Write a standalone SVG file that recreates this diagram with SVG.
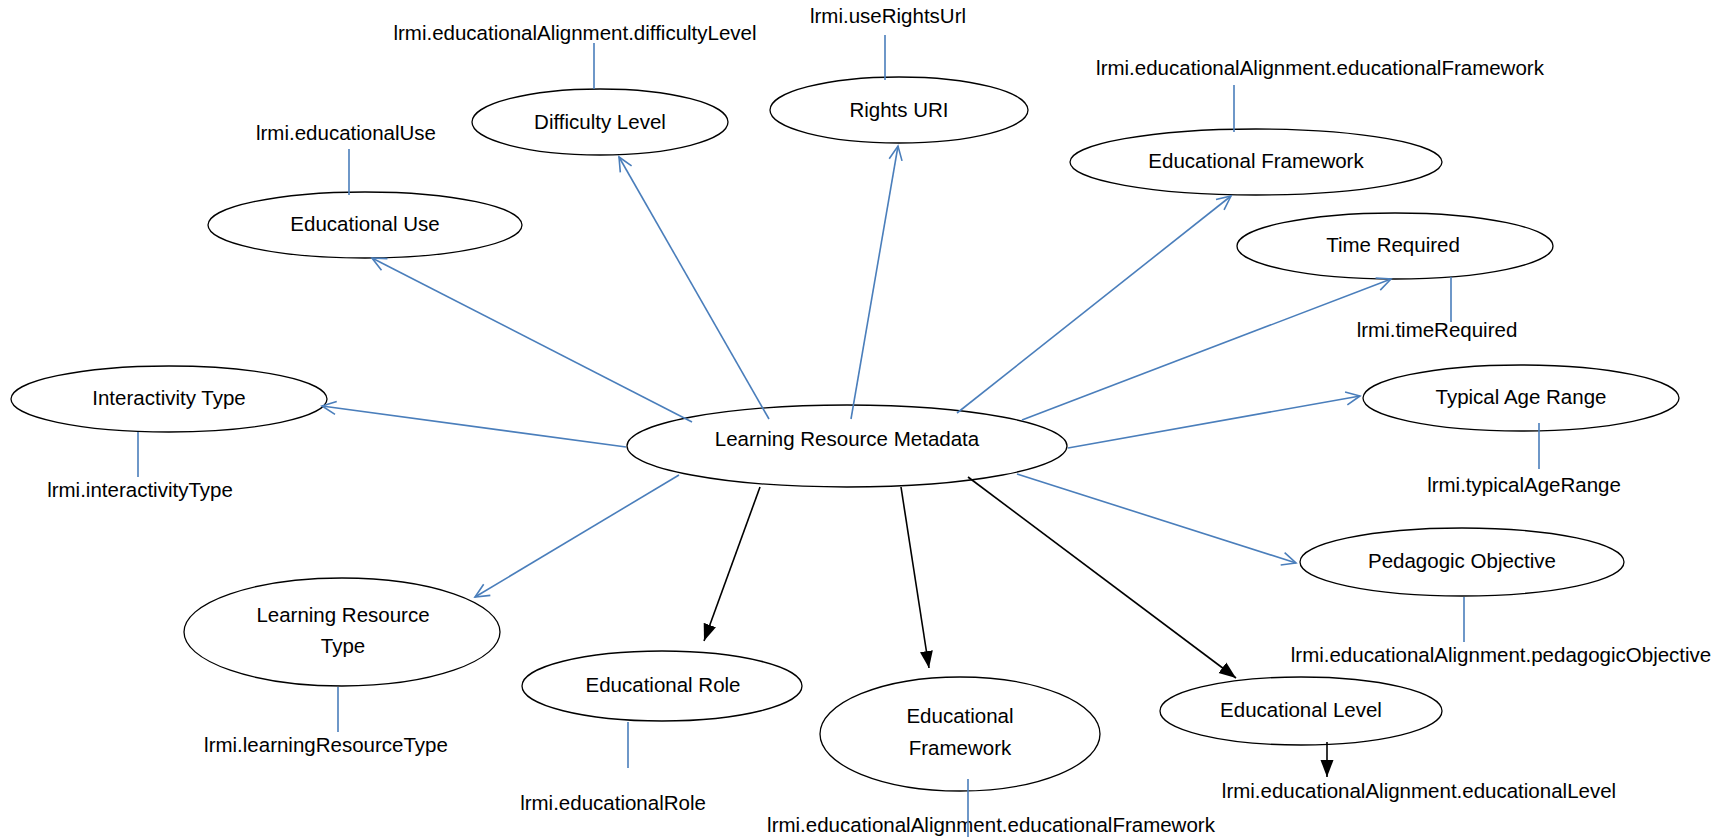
<svg xmlns="http://www.w3.org/2000/svg" width="1729" height="840" viewBox="0 0 1729 840">
<style>
text{font-family:"Liberation Sans",Arial,sans-serif;font-size:20.5px;fill:#000;text-anchor:middle}
ellipse{fill:#fff;stroke:#000;stroke-width:1.3}
.b{stroke:#4A7EBB;stroke-width:1.6;fill:none}
.k{stroke:#000;stroke-width:1.6;fill:none}
.ba{marker-end:url(#open)}
.ka{marker-end:url(#solid)}
</style>
<defs>
<marker id="open" markerUnits="userSpaceOnUse" markerWidth="18" markerHeight="16" viewBox="0 0 18 16" refX="16" refY="8" orient="auto">
<path d="M2,1.5 L16,8 L2,14.5" fill="none" stroke="#4A7EBB" stroke-width="1.6"/>
</marker>
<marker id="solid" markerUnits="userSpaceOnUse" markerWidth="18" markerHeight="14" viewBox="0 0 18 14" refX="17" refY="7" orient="auto">
<path d="M0,0.5 L17,7 L0,13.5 z" fill="#000"/>
</marker>
</defs>
<rect width="1729" height="840" fill="#fff"/>
<g id="central"><ellipse cx="847" cy="446" rx="220" ry="41"/><text x="847" y="446">Learning Resource Metadata</text></g>
<g id="difficulty"><ellipse cx="600" cy="122" rx="128" ry="33"/><text x="600" y="129">Difficulty Level</text><text x="575" y="40">lrmi.educationalAlignment.difficultyLevel</text></g>
<g id="rights"><ellipse cx="899" cy="110" rx="129" ry="33"/><text x="899" y="117">Rights URI</text><text x="888" y="23">lrmi.useRightsUrl</text></g>
<g id="eduse"><ellipse cx="365" cy="225" rx="157" ry="33"/><text x="365" y="231">Educational Use</text><text x="346" y="140">lrmi.educationalUse</text></g>
<g id="edframework-top"><ellipse cx="1256" cy="162" rx="186" ry="33"/><text x="1256" y="168">Educational Framework</text><text x="1320" y="75">lrmi.educationalAlignment.educationalFramework</text></g>
<g id="time"><ellipse cx="1395" cy="246" rx="158" ry="33"/><text x="1393" y="252">Time Required</text><text x="1437" y="337">lrmi.timeRequired</text></g>
<g id="interactivity"><ellipse cx="169" cy="399" rx="158" ry="33"/><text x="169" y="405">Interactivity Type</text><text x="140" y="497">lrmi.interactivityType</text></g>
<g id="agerange"><ellipse cx="1521" cy="398" rx="158" ry="33"/><text x="1521" y="404">Typical Age Range</text><text x="1524" y="492">lrmi.typicalAgeRange</text></g>
<g id="lrt"><ellipse cx="342" cy="632" rx="158" ry="54"/><text x="343" y="622">Learning Resource</text><text x="343" y="653">Type</text><text x="326" y="752">lrmi.learningResourceType</text></g>
<g id="role"><ellipse cx="662" cy="686" rx="140" ry="35"/><text x="663" y="692">Educational Role</text><text x="613" y="810">lrmi.educationalRole</text></g>
<g id="edframework-bottom"><ellipse cx="960" cy="734" rx="140" ry="57"/><text x="960" y="723">Educational</text><text x="960" y="755">Framework</text><text x="991" y="832">lrmi.educationalAlignment.educationalFramework</text></g>
<g id="pedagogic"><ellipse cx="1462" cy="562" rx="162" ry="34"/><text x="1462" y="568">Pedagogic Objective</text><text x="1501" y="662">lrmi.educationalAlignment.pedagogicObjective</text></g>
<g id="edlevel"><ellipse cx="1301" cy="711" rx="141" ry="34"/><text x="1301" y="717">Educational Level</text><text x="1419" y="798">lrmi.educationalAlignment.educationalLevel</text></g>
<g id="connectors">
<line class="b ba" x1="692" y1="422" x2="372" y2="258"/>
<line class="b ba" x1="769" y1="419" x2="619" y2="157"/>
<line class="b ba" x1="851" y1="419" x2="898" y2="146"/>
<line class="b ba" x1="957" y1="413" x2="1231" y2="196"/>
<line class="b ba" x1="1022" y1="420" x2="1391" y2="279"/>
<line class="b ba" x1="1068" y1="448" x2="1360" y2="396"/>
<line class="b ba" x1="1017" y1="474" x2="1296" y2="563"/>
<line class="b ba" x1="679" y1="475" x2="475" y2="597"/>
<line class="b ba" x1="626" y1="447" x2="322" y2="406"/>
<line class="k ka" x1="760" y1="487" x2="704" y2="641"/>
<line class="k ka" x1="901" y1="487" x2="929" y2="668"/>
<line class="k ka" x1="968" y1="477" x2="1236" y2="678"/>
<line class="k ka" x1="1327" y1="742" x2="1327" y2="777"/>
<line class="b" x1="594" y1="43" x2="594" y2="89"/>
<line class="b" x1="349" y1="149" x2="349" y2="195"/>
<line class="b" x1="885" y1="35" x2="885" y2="80"/>
<line class="b" x1="1234" y1="85" x2="1234" y2="132"/>
<line class="b" x1="1451" y1="277" x2="1451" y2="322"/>
<line class="b" x1="138" y1="432" x2="138" y2="477"/>
<line class="b" x1="1539" y1="423" x2="1539" y2="469"/>
<line class="b" x1="1464" y1="597" x2="1464" y2="642"/>
<line class="b" x1="338" y1="687" x2="338" y2="732"/>
<line class="b" x1="628" y1="722" x2="628" y2="768"/>
<line class="b" x1="968" y1="779" x2="968" y2="837"/>
</g>
</svg>
